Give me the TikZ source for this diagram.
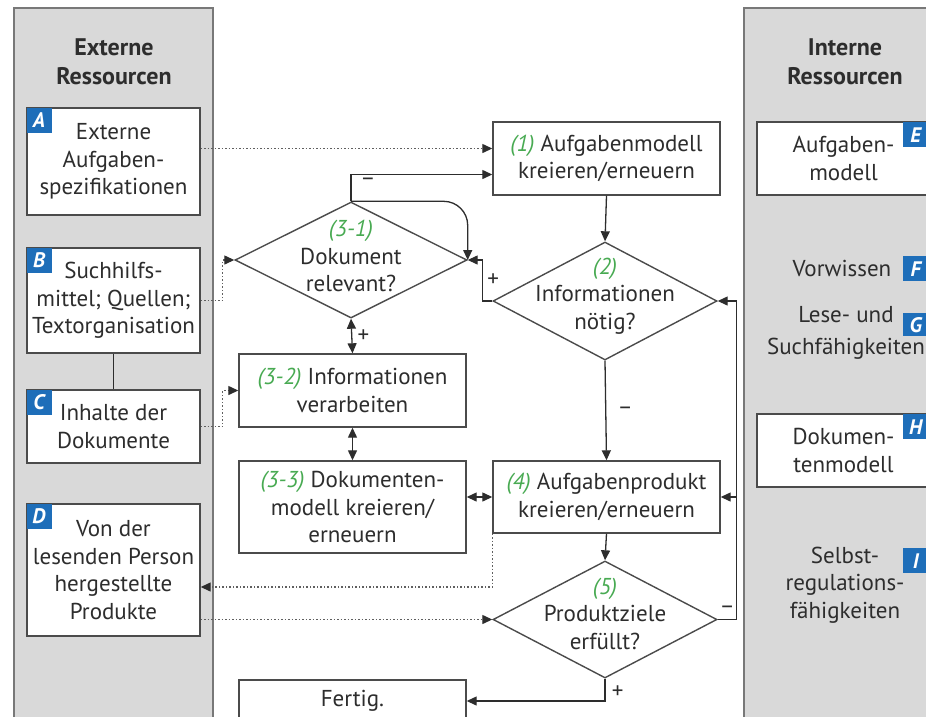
\documentclass[tikz,border=0pt]{standalone}
\usepackage{fontspec}
\setmainfont{PT Sans}
\usetikzlibrary{shapes.geometric,arrows.meta,calc}
\definecolor{panelgray}{RGB}{217,217,217}
\definecolor{panelline}{RGB}{120,120,120}
\definecolor{boxline}{RGB}{75,75,75}
\definecolor{ink}{RGB}{45,45,45}
\definecolor{dotgray}{RGB}{95,95,95}
\definecolor{numgreen}{RGB}{72,170,82}
\definecolor{badgeblue}{RGB}{30,110,185}
\newcommand{\gnum}[1]{{\color{numgreen}\itshape #1}}

\begin{document}
\begin{tikzpicture}[x=1pt,y=-1pt,font=\fontsize{23}{27.5}\selectfont,text=ink,
  panel/.style={fill=panelgray,draw=panelline,line width=1.2pt},
  box/.style={shape=rectangle,draw=boxline,line width=1.4pt,fill=white,align=center,inner sep=0pt},
  decision/.style={shape=diamond,draw=boxline,line width=1.4pt,fill=white,inner sep=0pt},
  badge/.style={shape=rectangle,fill=badgeblue,text=white,inner sep=0pt,minimum width=25pt,minimum height=25pt,font=\fontsize{21}{21}\selectfont\bfseries\itshape},
  title/.style={align=center,font=\fontsize{24}{29}\selectfont\bfseries},
  flow/.style={draw=ink,line width=1.3pt,-{Triangle[length=10pt,width=9pt]}},
  twoway/.style={draw=ink,line width=1.3pt,{Triangle[length=10pt,width=9pt]}-{Triangle[length=10pt,width=9pt]}},
  dots/.style={draw=dotgray,line width=1.3pt,dash pattern=on 1.3pt off 2.2pt,-{Triangle[length=10pt,width=9pt,color=ink]}},
  sign/.style={font=\fontsize{23}{23}\selectfont}]
\useasboundingbox (0,0) rectangle (926,716);
\clip (0,0) rectangle (926,716);

% panels
\draw[panel] (14,8) rectangle (213,740);
\draw[panel] (744,8) rectangle (950,740);
\node[title] (TL) at (114,61.5) {Externe\\Ressourcen};
\node[title] (TR) at (845,61.5) {Interne\\Ressourcen};

% external resources
\node[box,minimum width=173pt,minimum height=107pt] (A) at (113.5,161.5) {Externe\\Aufgaben-\\spezifikationen};
\node[box,minimum width=173pt,minimum height=105pt] (B) at (113.5,300.5) {Suchhilfs-\\mittel; Quellen;\\Textorganisation};
\node[box,minimum width=173pt,minimum height=73pt] (C) at (113.5,426.5) {Inhalte der\\Dokumente};
\node[box,minimum width=173pt,minimum height=132pt] (D) at (113.5,570) {Von der\\lesenden Person\\hergestellte\\Produkte};
\node[badge,anchor=north west] (bA) at (A.north west) {A};
\node[badge,anchor=north west] (bB) at (B.north west) {B};
\node[badge,anchor=north west] (bC) at (C.north west) {C};
\node[badge,anchor=north west] (bD) at (D.north west) {D};
\draw[draw=ink,line width=1.7pt] (B.south) -- (C.north);

% internal resources
\node[box,minimum width=173pt,minimum height=73pt] (E) at (843.5,158.5) {Aufgaben-\\modell};
\node[align=center] (F) at (842,268) {Vorwissen};
\node[align=center,font=\fontsize{23}{32}\selectfont] (G) at (846,333) {Lese- und\\Suchfähigkeiten};
\node[box,minimum width=173pt,minimum height=73pt] (H) at (843.5,450.5) {Dokumen-\\tenmodell};
\node[align=center] (I) at (845,585) {Selbst-\\regulations-\\fähigkeiten};
\node[badge,anchor=north west] (bE) at (903,122) {E};
\node[badge,anchor=north west] (bF) at (903,256) {F};
\node[badge,anchor=north west,minimum height=23pt] (bG) at (903,313) {G};
\node[badge,anchor=north west] (bH) at (903,414) {H};
\node[badge,anchor=north west] (bI) at (903,548) {I};

% process
\node[box,minimum width=227pt,minimum height=73pt] (P1) at (606.5,158.5) {\gnum{(1)} Aufgabenmodell\\kreieren/erneuern};
\node[decision,minimum width=232pt,minimum height=116pt] (Q31) at (351,260) {};
\node[align=center] at ([yshift=4pt]Q31.center) {\gnum{(3-1)}\\Dokument\\relevant?};
\node[decision,minimum width=224pt,minimum height=118pt] (Q2) at (605,301) {};
\node[align=center] at ([yshift=5pt]Q2.center) {\gnum{(2)}\\Informationen\\nötig?};
\node[box,minimum width=227pt,minimum height=73pt] (P32) at (352.5,390.5) {\gnum{(3-2)} Informationen\\verarbeiten};
\node[box,minimum width=227pt,minimum height=92pt] (P33) at (352.5,507) {\gnum{(3-3)} Dokumenten-\\modell kreieren/\\erneuern};
\node[box,minimum width=227pt,minimum height=72pt] (P4) at (606.5,497) {\gnum{(4)} Aufgabenprodukt\\kreieren/erneuern};
\node[decision,minimum width=224pt,minimum height=117pt] (Q5) at (605,619.5) {};
\node[align=center] at ([yshift=6pt]Q5.center) {\gnum{(5)}\\Produktziele\\erfüllt?};
\node[box,minimum width=227pt,minimum height=42pt] (Done) at (352.5,701) {Fertig.};

% connection points
\coordinate (a1) at ([yshift=10pt]P1.west);
\coordinate (a2) at ([yshift=-16pt]P1.west);
\coordinate (d1) at ([yshift=-17pt]D.east);
\coordinate (r1) at ($(Q5.east)+(19,0)$);

% connectors
\draw[dots] (A.east |- a1) -- (a1);
\draw[flow] (Q31.north) |- node[sign,pos=0.56,below=0pt] {–} (a2);
\draw[flow,rounded corners=24pt] (Q31.north) -| (Q31.east);
\draw[flow] (Q2.west) -- ++(-10,0) |- node[sign,pos=0.25,right=1pt] {+} (Q31.east);
\draw[dots] (B.east) -- ++(22,0) |- (Q31.west);
\draw[twoway] (Q31.south) -- node[sign,right=2pt] {+} (P32.north);
\draw[dots] (C.east) -- ++(22,0) |- (P32.west);
\draw[twoway] (P32.south) -- (P33.north);
\draw[twoway] (P33.east |- P4.west) -- (P4.west);
\draw[flow] (P1.south) -- (Q2.north);
\draw[flow] (Q2.south) -- node[sign,right=8pt] {–} (P4.north);
\draw[flow] (P4.south) -- (Q5.north);
\draw[dots] (P4.south west) |- (d1);
\draw[dots] (D.east |- Q5.west) -- (Q5.west);
\draw[flow] (Q5.east) -- node[sign,above=2pt] {–} (r1) |- (Q2.east);
\draw[flow] (r1 |- P4.east) -- (P4.east);
\draw[flow] (Q5.south) |- node[sign,pos=0.3,right=3pt] {+} (Done.east);
\end{tikzpicture}
\end{document}
